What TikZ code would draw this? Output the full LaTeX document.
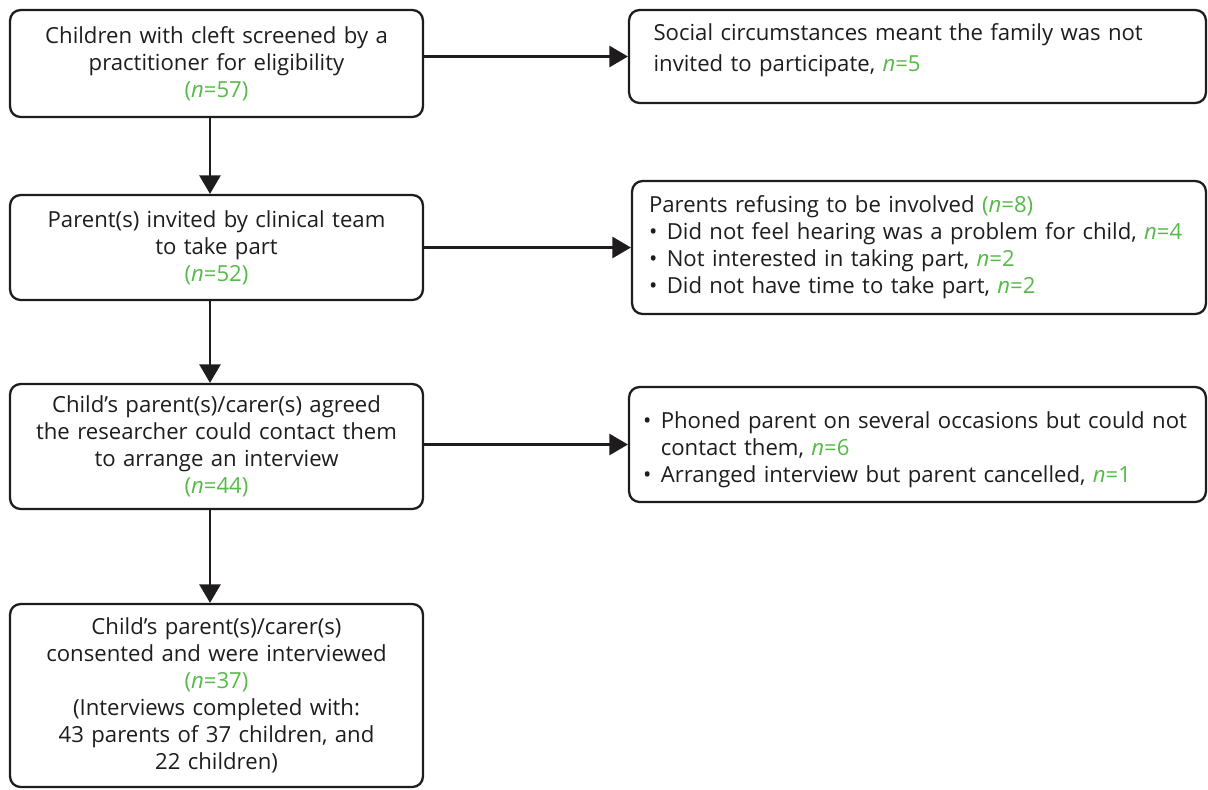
\documentclass[tikz,border=0pt]{standalone}
\usepackage{fontspec}
\setmainfont{Open Sans}
\usetikzlibrary{arrows.meta,positioning}
\definecolor{cntgreen}{RGB}{86,186,72}
\definecolor{boxink}{RGB}{30,28,28}
\newcommand{\cnt}[1]{\textcolor{cntgreen}{\textit{n}=#1}}
\newcommand{\bitem}{\par\hangindent=0.8em\hangafter=1\noindent\makebox[0.8em][l]{\textbullet}}

\begin{document}
\begin{tikzpicture}[x=0.02cm, y=-0.02cm,
      flowbox/.style={draw=boxink, rounded corners=6pt, line width=1.3pt, text=boxink,
        minimum width=8.26cm, text width=7.9cm, align=center, inner sep=4pt,
        font=\fontsize{12.6}{15.3}\selectfont},
      sidebox/.style={flowbox, minimum width=11.54cm, text width=10.86cm, align=left, inner xsep=0.34cm},
      flowarrow/.style={draw=boxink, line width=1.2pt, -{Triangle[length=10.5pt, width=12pt]}}
    ]
      \useasboundingbox (0,0) rectangle (1208,789);

      % Main column
      \node[flowbox, minimum height=2.14cm] (screened) at (216.5, 63.5) {
        Children with cleft screened by a\\
        practitioner for eligibility\\
        \textcolor{cntgreen}{(\textit{n}=57)}
      };
      \node[flowbox, minimum height=2.1cm] (invited) at (216.5, 247.5) {
        Parent(s) invited by clinical team\\
        to take part\\
        \textcolor{cntgreen}{(\textit{n}=52)}
      };
      \node[flowbox, minimum height=2.5cm] (agreed) at (216.5, 446.5) {
        Child’s parent(s)/carer(s) agreed\\
        the researcher could contact them\\
        to arrange an interview\\
        \textcolor{cntgreen}{(\textit{n}=44)}
      };
      \node[flowbox, minimum height=3.66cm] (interviewed) at (216.5, 695.5) {
        Child’s parent(s)/carer(s)\\
        consented and were interviewed\\
        \textcolor{cntgreen}{(\textit{n}=37)}\\
        (Interviews completed with:\\
        43 parents of 37 children, and\\
        22 children)
      };

      % Exclusions
      \node[sidebox, minimum height=1.86cm] (notinvited) at (917.5, 56.5) {
        \hspace*{0.15cm}Social circumstances meant the family was not\\[2pt]
        \hspace*{0.15cm}invited to participate, \cnt{5}\par\vspace*{7pt}
      };
      \node[sidebox, minimum height=2.66cm, minimum width=11.48cm, text width=10.8cm] (refused) at (919, 247.5) {
        Parents refusing to be involved \textcolor{cntgreen}{(\textit{n}=8)}
        \bitem \mbox{Did not feel hearing was a problem for child, \cnt{4}}
        \bitem Not interested in taking part, \cnt{2}
        \bitem Did not have time to take part, \cnt{2}
      };
      \node[sidebox, minimum height=2.3cm, inner xsep=0.28cm, text width=10.98cm] (nocontact) at (917.5, 444.5) {
        \bitem Phoned parent on several occasions but could not\hfil\break
        contact them, \cnt{6}
        \bitem Arranged interview but parent cancelled, \cnt{1}
      };

      % Connectors
      \draw[flowarrow] ([xshift=-0.13cm]screened.south) -- ([xshift=-0.13cm]invited.north);
      \draw[flowarrow] ([xshift=-0.13cm]invited.south) -- ([xshift=-0.13cm]agreed.north);
      \draw[flowarrow] ([xshift=-0.13cm]agreed.south) -- ([xshift=-0.13cm]interviewed.north);
      \draw[flowarrow] (screened.east |- notinvited.west) -- (notinvited.west);
      \draw[flowarrow] (invited.east |- refused.west) -- (refused.west);
      \draw[flowarrow] (agreed.east |- nocontact.west) -- (nocontact.west);
    \end{tikzpicture}
\end{document}
